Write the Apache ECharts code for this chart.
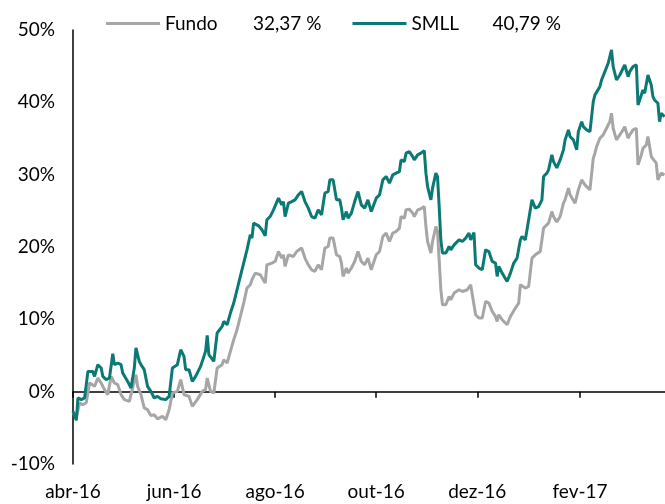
<!DOCTYPE html>
<html>
<head>
<meta charset="utf-8">
<script src="https://cdn.jsdelivr.net/npm/echarts@6/dist/echarts.min.js"></script>
<style>
html,body{margin:0;padding:0;background:#fff;}
#chart{width:665px;height:504px;}
</style>
</head>
<body>
<div id="chart"></div>
<script>
// ---- data ----
const seriesNames = ['Fundo', 'SMLL'];
const legendValues = ['32,37 %', '40,79 %'];

const xTickDates = ['2016-04-01','2016-06-01','2016-08-01','2016-10-01','2016-12-01','2017-02-01'];
const xTickLabels = ['abr-16','jun-16','ago-16','out-16','dez-16','fev-17'];
const xMin = '2016-04-01';
const xMax = '2017-03-24 07:00:00';
const yTicks = [-10, 0, 10, 20, 30, 40, 50];

const smllDates = [
'2016-04-01','2016-04-03','2016-04-04','2016-04-06','2016-04-08','2016-04-10','2016-04-11','2016-04-13','2016-04-14','2016-04-16',
'2016-04-18','2016-04-19','2016-04-21','2016-04-23','2016-04-25','2016-04-26','2016-04-28','2016-04-30','2016-05-01','2016-05-02',
'2016-05-04','2016-05-06','2016-05-08','2016-05-09','2016-05-11','2016-05-12','2016-05-14','2016-05-16','2016-05-18','2016-05-20',
'2016-05-22','2016-05-24','2016-05-27','2016-05-29','2016-05-31','2016-06-03','2016-06-05','2016-06-07','2016-06-08','2016-06-10',
'2016-06-12','2016-06-14','2016-06-17','2016-06-19','2016-06-20','2016-06-21','2016-06-22','2016-06-25','2016-06-27','2016-06-28',
'2016-06-30','2016-07-01','2016-07-03','2016-07-05','2016-07-07','2016-07-09','2016-07-11','2016-07-13','2016-07-15','2016-07-17',
'2016-07-18','2016-07-19','2016-07-22','2016-07-24','2016-07-26','2016-07-27','2016-07-29','2016-07-31','2016-08-03','2016-08-05',
'2016-08-06','2016-08-07','2016-08-09','2016-08-11','2016-08-13','2016-08-15','2016-08-17','2016-08-19','2016-08-21','2016-08-23',
'2016-08-25','2016-08-27','2016-08-29','2016-08-31','2016-09-02','2016-09-03','2016-09-05','2016-09-07','2016-09-09','2016-09-10',
'2016-09-11','2016-09-13','2016-09-14','2016-09-16','2016-09-18','2016-09-20','2016-09-22','2016-09-24','2016-09-26','2016-09-28',
'2016-09-29','2016-10-01','2016-10-03','2016-10-05','2016-10-07','2016-10-09','2016-10-11','2016-10-13','2016-10-15','2016-10-16',
'2016-10-18','2016-10-19','2016-10-21','2016-10-23','2016-10-24','2016-10-26','2016-10-28','2016-10-30','2016-10-31','2016-11-01',
'2016-11-03','2016-11-04','2016-11-06','2016-11-07','2016-11-08','2016-11-09','2016-11-10','2016-11-12','2016-11-14','2016-11-15',
'2016-11-17','2016-11-20','2016-11-22','2016-11-24','2016-11-26','2016-11-27','2016-11-29','2016-11-30','2016-12-02','2016-12-04',
'2016-12-06','2016-12-08','2016-12-10','2016-12-12','2016-12-13','2016-12-14','2016-12-15','2016-12-16','2016-12-19','2016-12-21',
'2016-12-23','2016-12-25','2016-12-27','2016-12-28','2016-12-30','2017-01-01','2017-01-03','2017-01-04','2017-01-05','2017-01-07',
'2017-01-09','2017-01-10','2017-01-12','2017-01-13','2017-01-15','2017-01-16','2017-01-18','2017-01-20','2017-01-22','2017-01-23',
'2017-01-25','2017-01-26','2017-01-28','2017-01-30','2017-01-31','2017-02-02','2017-02-03','2017-02-05','2017-02-07','2017-02-09',
'2017-02-10','2017-02-11','2017-02-13','2017-02-14','2017-02-15','2017-02-16','2017-02-18','2017-02-20','2017-02-21','2017-02-23',
'2017-02-25','2017-02-27','2017-02-28','2017-03-02','2017-03-03','2017-03-05','2017-03-07','2017-03-08','2017-03-10','2017-03-11',
'2017-03-12','2017-03-14','2017-03-15','2017-03-16','2017-03-17','2017-03-18','2017-03-20','2017-03-21','2017-03-22','2017-03-24'
];
const smllValues = [
-2.72,-3.96,-0.87,-1.10,-0.87,2.80,3.04,2.80,2.11,3.73,
3.27,2.11,1.66,1.89,5.25,3.73,3.96,3.73,2.58,2.35,
1.42,0.51,3.27,6.04,4.19,3.73,3.04,0.73,0.04,-0.87,
-0.65,-0.97,-1.10,-0.65,3.27,3.73,5.80,4.88,3.04,3.04,
1.42,2.11,3.49,4.88,5.57,7.78,5.11,4.19,8.11,8.33,
9.02,9.71,9.25,10.87,12.25,14.09,15.93,17.78,19.61,21.69,
21.23,23.30,22.93,22.38,21.55,23.76,24.21,25.14,26.75,25.83,
26.28,24.21,26.06,26.28,26.52,27.21,27.67,26.28,25.37,24.21,
23.99,25.14,24.45,27.44,27.67,29.28,29.28,26.52,26.52,25.37,
23.76,24.90,23.99,24.68,26.28,27.67,25.83,25.37,26.52,24.90,
24.68,26.75,27.21,29.28,29.74,28.83,29.97,30.21,30.43,32.04,
31.81,32.97,33.19,32.50,32.04,32.73,32.97,33.33,30.21,28.36,
26.52,28.14,30.21,29.74,25.59,20.99,19.16,19.16,20.07,19.61,
20.30,20.99,20.76,21.23,21.92,20.99,22.00,17.54,17.09,16.85,
19.61,19.38,18.00,17.78,15.93,17.31,16.85,16.39,15.23,16.39,
17.78,18.47,20.99,21.45,20.99,23.76,26.52,26.28,25.37,25.59,
26.52,29.74,30.21,30.66,32.73,31.81,30.94,32.04,33.43,34.81,
36.19,35.26,34.81,33.43,35.95,37.33,36.64,36.19,35.95,40.10,
41.02,41.26,42.17,43.09,43.33,44.24,45.40,47.24,44.93,43.09,
43.78,44.71,45.17,43.55,44.24,44.93,45.17,39.64,41.02,41.71,
41.26,43.78,44.02,42.40,40.79,40.33,39.88,37.33,38.49,38.02
];

const fundoDates = [
'2016-04-01','2016-04-03','2016-04-05','2016-04-07','2016-04-09','2016-04-11','2016-04-12','2016-04-14','2016-04-16','2016-04-18',
'2016-04-20','2016-04-22','2016-04-24','2016-04-26','2016-04-28','2016-04-30','2016-05-02','2016-05-03','2016-05-05','2016-05-07',
'2016-05-09','2016-05-10','2016-05-12','2016-05-14','2016-05-16','2016-05-18','2016-05-20','2016-05-22','2016-05-25','2016-05-27',
'2016-05-29','2016-05-31','2016-06-03','2016-06-05','2016-06-07','2016-06-10','2016-06-12','2016-06-15','2016-06-18','2016-06-20',
'2016-06-21','2016-06-23','2016-06-25','2016-06-27','2016-06-30','2016-07-01','2016-07-03','2016-07-05','2016-07-07','2016-07-09',
'2016-07-11','2016-07-13','2016-07-15','2016-07-17','2016-07-18','2016-07-20','2016-07-23','2016-07-26','2016-07-27','2016-07-30',
'2016-08-01','2016-08-03','2016-08-05','2016-08-06','2016-08-07','2016-08-09','2016-08-12','2016-08-14','2016-08-17','2016-08-19',
'2016-08-21','2016-08-23','2016-08-25','2016-08-27','2016-08-29','2016-08-31','2016-09-02','2016-09-03','2016-09-05','2016-09-07',
'2016-09-09','2016-09-10','2016-09-11','2016-09-13','2016-09-14','2016-09-16','2016-09-18','2016-09-20','2016-09-22','2016-09-24',
'2016-09-26','2016-09-28','2016-09-29','2016-10-01','2016-10-03','2016-10-05','2016-10-07','2016-10-09','2016-10-11','2016-10-13',
'2016-10-15','2016-10-16','2016-10-18','2016-10-19','2016-10-21','2016-10-23','2016-10-24','2016-10-26','2016-10-28','2016-10-30',
'2016-10-31','2016-11-01','2016-11-03','2016-11-04','2016-11-06','2016-11-07','2016-11-08','2016-11-09','2016-11-10','2016-11-12',
'2016-11-14','2016-11-15','2016-11-17','2016-11-20','2016-11-22','2016-11-23','2016-11-25','2016-11-27','2016-11-28','2016-11-30',
'2016-12-02','2016-12-04','2016-12-06','2016-12-08','2016-12-10','2016-12-12','2016-12-13','2016-12-14','2016-12-16','2016-12-19',
'2016-12-21','2016-12-24','2016-12-26','2016-12-27','2016-12-30','2017-01-01','2017-01-03','2017-01-05','2017-01-06','2017-01-08',
'2017-01-10','2017-01-13','2017-01-15','2017-01-16','2017-01-18','2017-01-20','2017-01-22','2017-01-23','2017-01-25','2017-01-26',
'2017-01-29','2017-01-31','2017-02-02','2017-02-04','2017-02-07','2017-02-09','2017-02-10','2017-02-11','2017-02-13','2017-02-15',
'2017-02-17','2017-02-19','2017-02-20','2017-02-21','2017-02-23','2017-02-25','2017-02-27','2017-02-28','2017-03-02','2017-03-03',
'2017-03-05','2017-03-07','2017-03-08','2017-03-10','2017-03-11','2017-03-13','2017-03-14','2017-03-16','2017-03-17','2017-03-19',
'2017-03-20','2017-03-22','2017-03-24'
];
const fundoValues = [
-2.90,-3.59,-1.52,-1.80,-1.52,1.24,1.42,0.73,1.89,1.20,
0.28,-0.41,2.11,1.20,0.97,-0.41,-1.10,-0.87,-1.34,0.51,
2.35,0.73,-0.41,-2.25,-2.49,-3.31,-3.18,-3.77,-3.41,-3.87,
-2.49,-0.18,0.04,1.66,-0.41,-0.65,-2.03,-1.10,0.04,0.28,
1.89,0.04,-0.18,3.27,3.73,4.42,3.96,5.57,7.18,8.56,
10.40,12.25,14.32,14.78,15.47,16.39,16.16,15.01,17.54,17.78,
18.00,19.38,18.47,18.92,17.31,18.92,18.69,19.38,19.85,18.47,
17.54,16.85,16.62,17.54,16.85,19.85,20.07,21.23,21.23,18.92,
18.69,17.78,15.93,17.09,16.39,17.09,18.00,19.38,18.00,17.54,
18.47,16.85,17.09,18.92,19.38,21.45,21.92,20.76,21.92,22.14,
22.61,24.21,23.99,25.14,25.23,24.68,24.21,25.14,25.28,25.59,
22.83,20.76,19.16,20.76,22.83,22.14,18.23,14.09,12.02,12.02,
13.16,12.71,13.63,14.09,13.85,13.63,14.09,14.78,14.54,10.64,
10.18,10.18,12.47,12.25,11.09,10.40,9.71,10.64,9.94,9.25,
10.40,11.56,12.25,14.78,14.32,14.54,18.47,18.92,18.69,19.38,
22.61,23.30,24.90,24.21,23.48,24.21,26.06,26.52,28.14,27.21,
26.06,27.90,29.28,28.59,27.90,32.28,32.97,33.88,35.04,35.50,
36.42,37.33,38.49,36.42,34.81,35.50,36.19,36.64,35.04,35.50,
36.19,36.42,31.35,32.73,33.66,34.12,35.26,32.50,32.28,31.59,
29.28,30.21,29.97
];

// ---- chart ----
const FONT = 'Lato';
const FS = 19;
const toTs = s => echarts.time.parse(s).getTime();
const tickTs = xTickDates.map(toTs);
const pair = (dates, vals) => dates.map((d, i) => [toTs(d), vals[i]]);

const chart = echarts.init(document.getElementById('chart'), null, {renderer: 'canvas'});
const axisBase = {
  type: 'value',
  min: toTs(xMin),
  max: toTs(xMax),
  splitLine: {show: false},
  minorTick: {show: false}
};
chart.setOption({
  animation: false,
  backgroundColor: '#ffffff',
  grid: {left: 73, right: 0, top: 30, bottom: 40, containLabel: false},
  legend: {
    left: 101, top: 9,
    icon: 'rect', itemWidth: 54, itemHeight: 3, itemGap: 31,
    data: seriesNames,
    formatter: name => {
      const i = seriesNames.indexOf(name);
      return '{n' + i + '|' + name + '}{v|' + legendValues[i] + '}';
    },
    textStyle: {
      fontFamily: FONT, fontSize: FS, color: '#000',
      rich: {
        n0: {width: 88, fontFamily: FONT, fontSize: FS, color: '#000'},
        n1: {width: 81, fontFamily: FONT, fontSize: FS, color: '#000'},
        v: {fontFamily: FONT, fontSize: FS, color: '#000'}
      }
    }
  },
  xAxis: [
    Object.assign({}, axisBase, {
      position: 'bottom',
      axisLine: {show: false, onZero: false},
      axisTick: {show: false},
      axisLabel: {
        show: true, margin: 18, fontFamily: FONT, fontSize: FS, color: '#000',
        customValues: tickTs,
        hideOverlap: false,
        formatter: v => {
          let best = 0;
          tickTs.forEach((t, i) => { if (Math.abs(t - v) < Math.abs(tickTs[best] - v)) best = i; });
          return xTickLabels[best];
        }
      }
    }),
    Object.assign({}, axisBase, {
      position: 'bottom',
      axisLine: {show: true, onZero: true, lineStyle: {color: '#000', width: 1.5}},
      axisTick: {show: true, inside: false, length: 6, customValues: tickTs, lineStyle: {color: '#000', width: 1.5}},
      axisLabel: {show: false}
    })
  ],
  yAxis: {
    type: 'value',
    min: yTicks[0], max: yTicks[yTicks.length - 1], interval: 10,
    axisLine: {show: true, onZero: false, lineStyle: {color: '#000', width: 1.5}},
    axisTick: {show: false},
    splitLine: {show: false},
    axisLabel: {margin: 18, fontFamily: FONT, fontSize: FS, color: '#000', formatter: '{value}%'}
  },
  series: [
    {
      name: seriesNames[0], type: 'line', xAxisIndex: 0, showSymbol: false,
      data: pair(fundoDates, fundoValues),
      color: '#a6a6a6',
      lineStyle: {color: '#a6a6a6', width: 3}
    },
    {
      name: seriesNames[1], type: 'line', xAxisIndex: 0, showSymbol: false,
      data: pair(smllDates, smllValues),
      color: '#0b7a75',
      lineStyle: {color: '#0b7a75', width: 3}
    }
  ]
});
</script>
</body>
</html>
